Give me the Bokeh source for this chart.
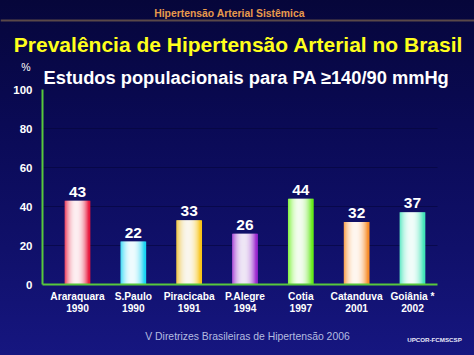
from bokeh.plotting import figure
from bokeh.models import ColumnDataSource, Range1d, FixedTicker
from bokeh.core.properties import value
from bokeh.embed import file_html
from bokeh.resources import INLINE

# ---- data ----
cities = ["Araraquara", "S.Paulo", "Piracicaba", "P.Alegre", "Cotia", "Catanduva", "Goiânia *"]
years = ["1990", "1990", "1991", "1994", "1997", "2001", "2002"]
prevalence = [43, 22, 33, 26, 44, 32, 37]
bar_colors = ["#e8183c", "#18d4f4", "#f8c418", "#a028d4", "#68f018", "#f88c28", "#40e4b8"]
y_ticks = [0, 20, 40, 60, 80, 100]
grid_ticks = [20, 40, 60, 80]

title = "Prevalência de Hipertensão Arterial no Brasil"
subtitle = "Estudos populacionais para PA ≥140/90 mmHg"
header = "Hipertensão Arterial Sistêmica"
footer = "V Diretrizes Brasileiras de Hipertensão 2006"
credit = "UPCOR-FCMSCSP"

FONT = "Liberation Sans"
W, H = 474, 355

# layout of the canvas (pixels): first bar centre, bar spacing, baseline, px per unit
X0_PX, DX_PX = 77.0, 55.83
Y0_PX, DY_PX = 284.0, 1.95
AX_LEFT = (42 - X0_PX) / DX_PX      # data x of the value axis
AX_RIGHT = (437 - X0_PX) / DX_PX    # data x where the category axis ends

def px_x(px):
    return (px - X0_PX) / DX_PX

def px_y(py):
    return (Y0_PX - py) / DY_PX

# ---- helpers ----
def hex2rgb(h):
    h = h.lstrip("#")
    return tuple(int(h[i:i + 2], 16) for i in (0, 2, 4))

def mix(c, t):
    r, g, b = hex2rgb(c)
    return "#%02x%02x%02x" % (int(r + (255 - r) * t), int(g + (255 - g) * t), int(b + (255 - b) * t))

p = figure(width=W, height=H, output_backend="svg", toolbar_location=None,
           x_range=Range1d(px_x(0), px_x(W)), y_range=Range1d(px_y(H), px_y(0)),
           min_border=0, min_border_left=0, min_border_right=0,
           min_border_top=0, min_border_bottom=0)
p.background_fill_alpha = 0
p.border_fill_alpha = 0
p.outline_line_color = None

def put(txt, x, y, size, color, style="bold", align="center"):
    p.text(x=[px_x(x)], y=[px_y(y)], text=[txt], text_font=value(FONT), text_font_size=size,
           text_color=color, text_font_style=style, text_align=align,
           text_baseline="alphabetic")

# ---- header texts ----
put(header, 229, 12.5, "10.4px", "#e89a4c")
p.segment(x0=[px_x(0)], y0=[px_y(20)], x1=[px_x(W)], y1=[px_y(20)],
          line_color="#5a4848", line_width=2)
put(title, 238, 44, "21px", "#ffff1c")
put("%", 25.5, 66, "10.5px", "white", style="normal")
put(subtitle, 246, 77, "18.3px", "white")

# ---- faint grid ----
p.segment(x0=[AX_LEFT] * len(grid_ticks), y0=grid_ticks,
          x1=[AX_RIGHT] * len(grid_ticks), y1=grid_ticks,
          line_color="#05053a", line_alpha=0.6, line_width=1)

# ---- bars (gradient built from narrow strips) ----
BAR_W = 0.45
N_STRIPS = 25
strip_w = BAR_W / N_STRIPS

xs, tops, cols = [], [], []
for i, (v, c) in enumerate(zip(prevalence, bar_colors)):
    for k in range(N_STRIPS):
        u = (k + 0.5) / N_STRIPS * 2 - 1  # -1..1
        d = min(1.0, abs(u + 0.08))
        t = 0.93 * (1 - d ** 2.2)
        xs.append(i - BAR_W / 2 + (k + 0.5) * strip_w)
        tops.append(v)
        cols.append(mix(c, t))
strips = ColumnDataSource(dict(x=xs, top=tops, color=cols))
p.vbar(x="x", top="top", width=strip_w * 1.6, bottom=0, source=strips,
       fill_color="color", line_color=None)

labels_src = ColumnDataSource(dict(x=list(range(len(cities))), y=prevalence,
                                   text=[str(v) for v in prevalence]))
p.text(x="x", y="y", text="text", source=labels_src, text_color="white",
       text_font=value(FONT), text_font_style="bold", text_font_size="15.5px",
       text_align="center", text_baseline="bottom", y_offset=-4)

# ---- axes ----
GREEN = "#58c83c"
p.yaxis.fixed_location = AX_LEFT
p.yaxis.bounds = (0, 100)
p.yaxis.ticker = FixedTicker(ticks=y_ticks)
p.yaxis.axis_line_color = GREEN
p.yaxis.axis_line_width = 2
p.yaxis.major_tick_line_color = None
p.yaxis.minor_tick_line_color = None
p.yaxis.major_label_text_color = "white"
p.yaxis.major_label_text_font = FONT
p.yaxis.major_label_text_font_style = "bold"
p.yaxis.major_label_text_font_size = "11.5px"
p.yaxis.major_label_standoff = 4

p.xaxis.fixed_location = 0
p.xaxis.bounds = (AX_LEFT, AX_RIGHT)
p.xaxis.ticker = FixedTicker(ticks=list(range(len(cities))))
p.xaxis.major_label_overrides = {i: f"{c}\n{y}" for i, (c, y) in enumerate(zip(cities, years))}
p.xaxis.axis_line_color = GREEN
p.xaxis.axis_line_width = 2
p.xaxis.major_tick_line_color = None
p.xaxis.minor_tick_line_color = None
p.xaxis.major_label_text_color = "white"
p.xaxis.major_label_text_font = FONT
p.xaxis.major_label_text_font_style = "bold"
p.xaxis.major_label_text_font_size = "10.2px"
p.xaxis.major_label_text_line_height = 1.1
p.xaxis.major_label_standoff = 0

p.xgrid.grid_line_color = None
p.ygrid.grid_line_color = None

# ---- footer ----
put(footer, 247, 336, "10.4px", "#b4bce0", style="normal")
put(credit, 434, 339, "6.2px", "#e8e8f8")

html = file_html(p, INLINE)
style = ("<style>html,body{margin:0;padding:0;overflow:hidden;}"
         "body{background:linear-gradient(to bottom,#06063a 0%,#0a0a55 35%,"
         "#10106a 70%,#161680 100%);min-height:355px;}</style>")
html = html.replace("</head>", style + "</head>", 1)
open("out.html", "w").write(html)
